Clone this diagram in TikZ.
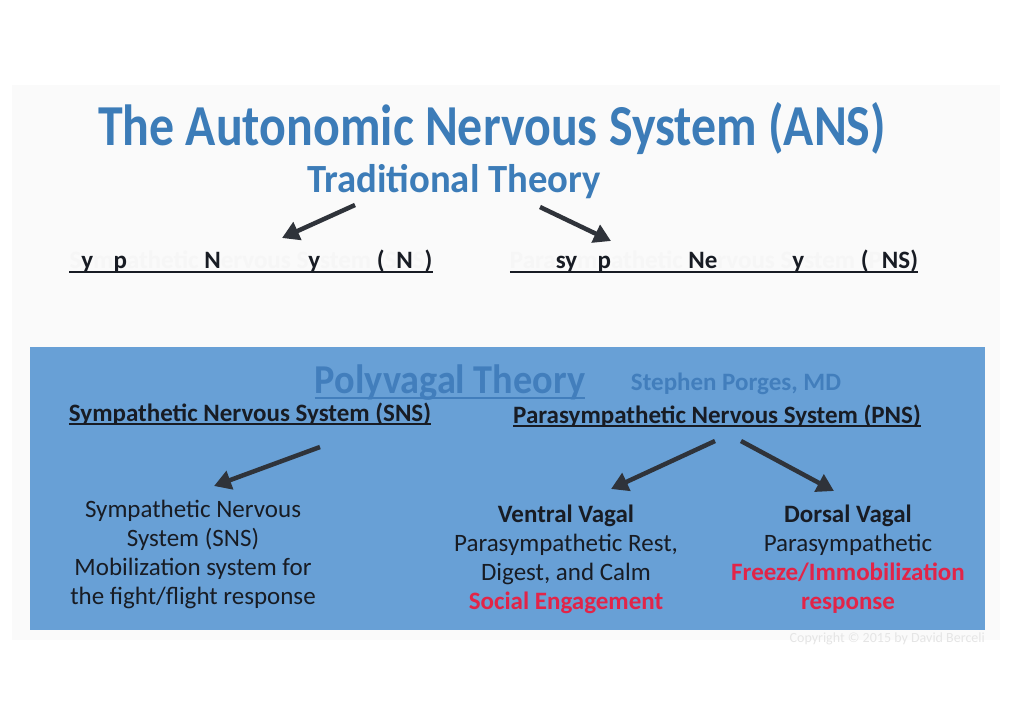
\documentclass[tikz,border=0pt]{standalone}
\usepackage{fontspec}
\setmainfont{Carlito}
\usetikzlibrary{arrows.meta, positioning}

\definecolor{ansblue}{RGB}{60,124,184}
\definecolor{boxblue}{RGB}{104,160,214}
\definecolor{pvblue}{RGB}{66,126,188}
\definecolor{ink}{RGB}{24,28,36}
\definecolor{alert}{RGB}{226,36,72}
\definecolor{fade}{RGB}{246,246,246}
\definecolor{scan}{RGB}{250,250,250}
\newcommand{\fd}[1]{\textcolor{fade}{#1}}
\newcommand{\fsz}[2]{\fontsize{#1}{#2}\selectfont}

\begin{document}
\begin{tikzpicture}[x=1pt, y=-1pt,
	fat/.style={draw=ink!90, line width=4.5pt, -{Triangle[length=17pt,width=19pt]}},
	head/.style={anchor=base, inner sep=0pt, font=\bfseries\fsz{25}{29}},
	block/.style={anchor=north, inner sep=0pt, align=center, text=ink, font=\fsz{25}{29}}]
	\useasboundingbox (0,0) rectangle (1024,724);
	\fill[white] (0,0) rectangle (1024,724);
	\fill[scan] (12,85) rectangle (1000,640);
	% traditional theory
	\node[anchor=base, text=ansblue, font=\bfseries\fsz{58}{62}] (title) at (492,145) {\scalebox{0.86}[1]{The Autonomic Nervous System (ANS)}};
	\node[anchor=base, text=ansblue, font=\bfseries\fsz{40}{44}] (trad) at (454,192) {\scalebox{0.967}[1]{Traditional Theory}};
	\node[head, text=ink] (sns0) at (251,268) {\fd{S}y\fd{m}p\fd{athetic} N\fd{ervous S}y\fd{stem} (\fd{S}N\fd{S})};
	\node[head, text=ink] (pns0) at (714,268) {\fd{Para}sy\fd{m}p\fd{athetic} Ne\fd{rvous S}y\fd{stem} (\fd{P}NS)};
	\draw[ink, line width=1.3pt] ([yshift=-4pt]sns0.base west) -- ([yshift=-4pt]sns0.base east);
	\draw[ink, line width=1.3pt] ([yshift=-4pt]pns0.base west) -- ([yshift=-4pt]pns0.base east);
	\coordinate (t1) at (355,205);
	\coordinate (t2) at (282,238);
	\coordinate (t3) at (540,207);
	\coordinate (t4) at (611,241);
	\draw[fat] (t1) -- (t2);
	\draw[fat] (t3) -- (t4);
	% polyvagal theory
	\fill[boxblue] (30,347) rectangle (985,630);
	\node[anchor=base, inner sep=0pt, text=pvblue, font=\bfseries\fsz{41}{45}] (pvt) at (450,393) {\scalebox{0.934}[1]{Polyvagal Theory}};
	\draw[pvblue, line width=2pt] ([yshift=-5pt]pvt.base west) -- ([yshift=-5pt]pvt.base east);
	\node[anchor=base, inner sep=0pt, text=pvblue, font=\bfseries\fsz{25}{29}] (porges) at (736,390) {Stephen Porges, MD};
	\node[head, text=ink] (sns) at (250,421) {Sympathetic Nervous System (SNS)};
	\node[head, text=ink] (pns) at (717,423) {Parasympathetic Nervous System (PNS)};
	\draw[ink, line width=1.3pt] ([yshift=-3pt]sns.base west) -- ([yshift=-3pt]sns.base east);
	\draw[ink, line width=1.3pt] ([yshift=-3pt]pns.base west) -- ([yshift=-3pt]pns.base east);
	\coordinate (p1) at (320,447);
	\coordinate (p2) at (214,486);
	\coordinate (p3) at (715,441);
	\coordinate (p4) at (611,489);
	\coordinate (p5) at (741,441);
	\coordinate (p6) at (834,491);
	\draw[fat] (p1) -- (p2);
	\draw[fat] (p3) -- (p4);
	\draw[fat] (p5) -- (p6);
	\node[block] (symp) at (193,500) {Sympathetic Nervous\\System (SNS)\\Mobilization system for\\the fight/flight response};
	\node[block] (ventral) at (566,505) {\textbf{Ventral Vagal}\\Parasympathetic Rest,\\Digest, and Calm\\\textcolor{alert}{\textbf{Social Engagement}}};
	\node[block] (dorsal) at (848,505) {\textbf{Dorsal Vagal}\\Parasympathetic\\\textcolor{alert}{\textbf{Freeze/Immobilization}}\\\textcolor{alert}{\textbf{response}}};
	\node[anchor=base east, inner sep=0pt, text=black!10, font=\fsz{14}{16}] (copy) at (985,642) {Copyright © 2015 by David Berceli};
\end{tikzpicture}
\end{document}
